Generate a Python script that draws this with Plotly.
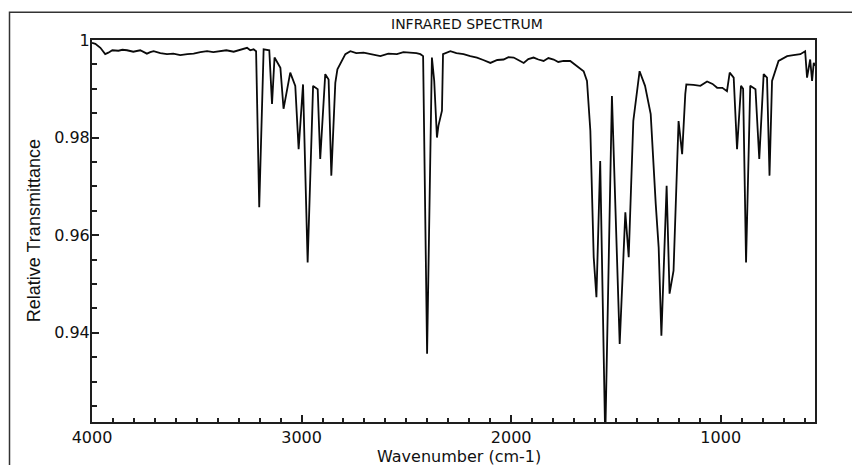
import plotly.graph_objects as go

# Wavenumber (cm-1) and relative transmittance
wavenumber = [
    4000, 3984, 3960, 3946, 3937, 3922, 3903, 3874, 3855, 3833, 3803, 3770, 3738, 3722, 3706,
    3674, 3642, 3612, 3579, 3545, 3515, 3483, 3451, 3421, 3388, 3359, 3324, 3292, 3260, 3245,
    3229, 3217, 3202, 3181, 3154, 3141, 3129, 3101, 3086, 3054, 3030, 3014, 2993, 2971, 2945,
    2923, 2911, 2887, 2871, 2858, 2839, 2829, 2791, 2767, 2739, 2704, 2672, 2624, 2586, 2545,
    2514, 2481, 2452, 2433, 2420, 2401, 2378, 2367, 2354, 2347, 2338, 2330, 2325, 2290, 2261,
    2227, 2195, 2163, 2133, 2099, 2066, 2036, 2013, 1988, 1966, 1940, 1918, 1893, 1870, 1845,
    1822, 1797, 1775, 1750, 1718, 1686, 1654, 1638, 1622, 1606, 1593, 1575, 1551, 1519, 1482,
    1455, 1439, 1417, 1387, 1361, 1334, 1310, 1296, 1283, 1258, 1244, 1225, 1201, 1184, 1169,
    1164, 1130, 1097, 1065, 1039, 1017, 992, 970, 957, 938, 922, 903, 893, 879, 859,
    834, 816, 795, 779, 767, 755, 724, 683, 653, 620, 597, 588, 573, 564, 556, 550,
]
transmittance = [
    0.9994, 0.9992, 0.9984, 0.9977, 0.9971, 0.9974, 0.9979, 0.9978, 0.9980, 0.9979, 0.9976, 0.9979, 0.9972, 0.9975, 0.9977,
    0.9973, 0.9971, 0.9972, 0.9969, 0.9971, 0.9972, 0.9975, 0.9977, 0.9975, 0.9977, 0.9979, 0.9976, 0.9980, 0.9984, 0.9979,
    0.9981, 0.9977, 0.9657, 0.9981, 0.9979, 0.9869, 0.9964, 0.9943, 0.9859, 0.9933, 0.9906, 0.9776, 0.9909, 0.9544, 0.9906,
    0.9899, 0.9756, 0.9930, 0.9919, 0.9722, 0.9912, 0.9940, 0.9971, 0.9977, 0.9973, 0.9974, 0.9971, 0.9967, 0.9972, 0.9971,
    0.9975, 0.9974, 0.9973, 0.9971, 0.9967, 0.9357, 0.9964, 0.9916, 0.9800, 0.9824, 0.9844, 0.9855, 0.9971, 0.9977, 0.9973,
    0.9971, 0.9967, 0.9964, 0.9959, 0.9953, 0.9959, 0.9960, 0.9965, 0.9964, 0.9959, 0.9953, 0.9961, 0.9964, 0.9960, 0.9957,
    0.9963, 0.9960, 0.9955, 0.9957, 0.9957, 0.9947, 0.9936, 0.9916, 0.9814, 0.9555, 0.9473, 0.9752, 0.9180, 0.9885, 0.9377,
    0.9647, 0.9555, 0.9834, 0.9936, 0.9906, 0.9848, 0.9664, 0.9575, 0.9394, 0.9701, 0.9480, 0.9527, 0.9834, 0.9766, 0.9889,
    0.9909, 0.9908, 0.9906, 0.9915, 0.9910, 0.9902, 0.9902, 0.9895, 0.9933, 0.9923, 0.9776, 0.9906, 0.9900, 0.9544, 0.9906,
    0.9899, 0.9756, 0.9930, 0.9923, 0.9722, 0.9916, 0.9957, 0.9967, 0.9969, 0.9971, 0.9977, 0.9923, 0.9960, 0.9916, 0.9953, 0.9947,
]

x_tickvals = [4000, 3000, 2000, 1000]
x_ticktext = ["4000", "3000", "2000", "1000"]
y_tickvals = [0.94, 0.96, 0.98, 1.0]
y_ticktext = ["0.94", "0.96", "0.98", "1"]

title_text = "INFRARED SPECTRUM"
x_title = "Wavenumber (cm-1)"
y_title = "Relative Transmittance"

AX = "#1e1e1e"
FONT = "DejaVu Sans"

fig = go.Figure(
    go.Scatter(
        x=wavenumber,
        y=transmittance,
        mode="lines",
        line=dict(color="#0a0a0a", width=1.8),
        hoverinfo="skip",
    )
)

axis_common = dict(
    showline=True,
    mirror=True,
    linecolor=AX,
    linewidth=2,
    showgrid=False,
    zeroline=False,
    ticks="inside",
    ticklen=7,
    tickwidth=1.5,
    tickcolor=AX,
    tickfont=dict(family=FONT, size=16, color="#111"),
)

fig.update_layout(
    width=852,
    height=465,
    margin=dict(l=92, r=37, t=40, b=43),
    paper_bgcolor="white",
    plot_bgcolor="white",
    showlegend=False,
    xaxis=dict(
        range=[4000, 550],
        tickvals=x_tickvals,
        ticktext=x_ticktext,
        minor=dict(dtick=100, ticks="inside", ticklen=4, tickwidth=1.5, tickcolor=AX),
        **axis_common,
    ),
    yaxis=dict(
        range=[0.9217, 1.0],
        tickvals=y_tickvals,
        ticktext=y_ticktext,
        ticklabelstandoff=-3,
        minor=dict(dtick=0.005, ticks="inside", ticklen=5, tickwidth=1.5, tickcolor=AX),
        **axis_common,
    ),
    annotations=[
        dict(text=title_text, xref="paper", yref="paper", x=0.5187, y=1.0406,
             xanchor="center", yanchor="middle", showarrow=False,
             font=dict(family=FONT, size=14, color="#111")),
        dict(text=x_title, xref="paper", yref="paper", x=0.507, y=-0.091,
             xanchor="center", yanchor="middle", showarrow=False,
             font=dict(family=FONT, size=16, color="#111")),
        dict(text=y_title, xref="paper", yref="paper", x=-0.080, y=0.5,
             xanchor="center", yanchor="middle", textangle=-90, showarrow=False,
             font=dict(family="Liberation Sans", size=18, color="#111")),
    ],
    shapes=[
        dict(type="rect", xref="paper", yref="paper",
             x0=-0.1141, x1=1.07, y0=-0.14, y1=1.0726,
             line=dict(color="#333", width=1.5), fillcolor="rgba(0,0,0,0)", layer="below"),
    ],
)

fig.write_html("out.html")
